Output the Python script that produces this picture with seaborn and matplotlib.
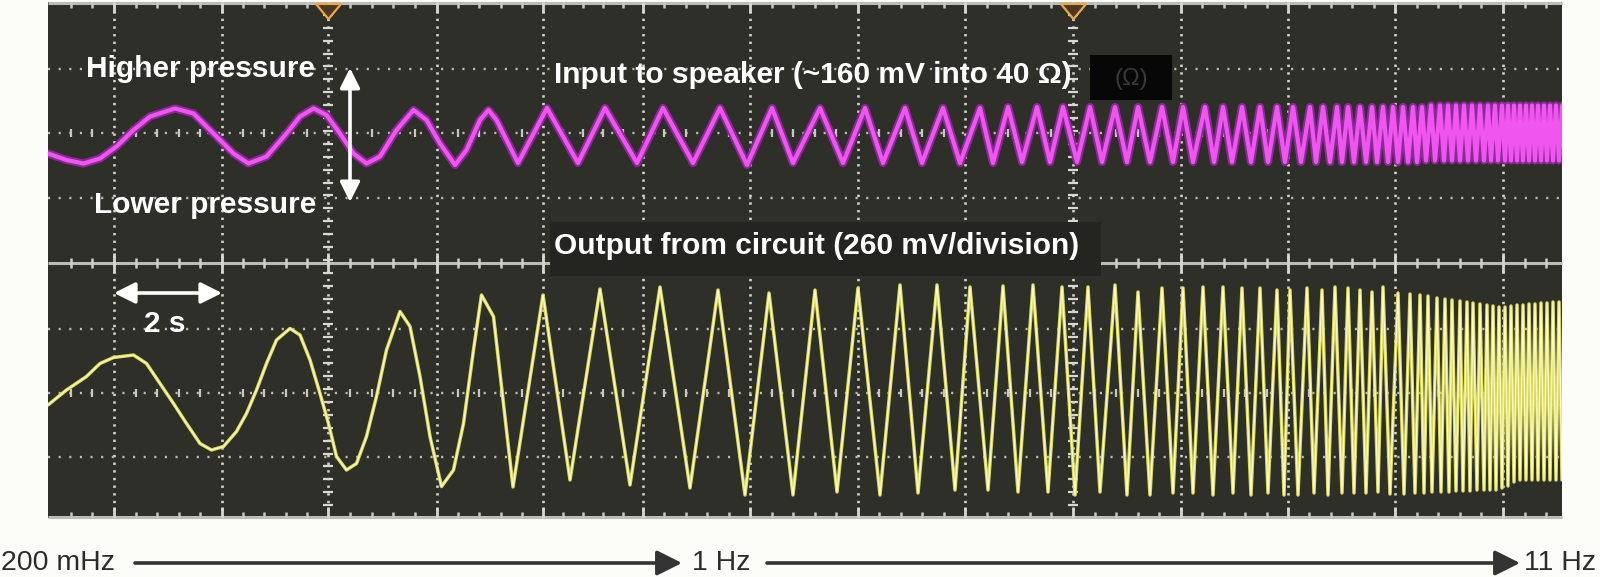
import numpy as np
import matplotlib
matplotlib.use("Agg")
import matplotlib.pyplot as plt
import seaborn as sns
from matplotlib.patches import Rectangle, FancyArrowPatch

# ---------------- data ----------------
# time axis in seconds (screen scale), level in screen units
# Input to speaker (magenta): detailed start, then alternating trough/peak extrema
input_time = [0.00, 0.37, 0.71, 1.04, 1.37, 1.71, 2.04, 2.54, 2.91, 3.31,
              3.71, 4.01, 4.37, 4.77, 5.04, 5.31, 5.57, 5.84, 6.11, 6.37,
              6.64, 6.97, 7.31, 7.57, 7.84, 8.14, 8.37, 8.64, 8.81, 8.97,
              9.40, 9.98, 10.60, 11.14, 11.78, 12.30, 12.90, 13.44, 13.98, 14.48,
              14.90, 15.44, 15.90, 16.34, 16.70, 17.14, 17.48, 17.90, 18.24, 18.64,
              18.90, 19.20, 19.48, 19.78, 20.04, 20.30, 20.58, 20.84, 21.08, 21.34,
              21.58, 21.80, 22.04, 22.28, 22.50, 22.70, 22.90, 23.14, 23.32, 23.50,
              23.68, 23.88, 24.06, 24.24, 24.40, 24.58, 24.74, 24.90, 25.06, 25.24,
              25.36, 25.50, 25.64, 25.78, 25.88, 26.00, 26.12, 26.24, 26.36, 26.48,
              26.58, 26.70, 26.80, 26.90, 27.00, 27.10, 27.20, 27.30, 27.38, 27.48,
              27.56, 27.66, 27.74, 27.84, 27.92, 28.00, 28.08, 28.16, 28.24, 28.32,
              28.40, 28.48, 28.56, 28.64, 28.72, 28.80, 28.86, 28.94, 29.00, 29.08,
              29.14, 29.20, 29.26, 29.32, 29.38, 29.44, 29.50, 29.56, 29.62, 29.68,
              29.74, 29.80, 29.86, 29.92, 29.98, 30.04, 30.10, 30.16, 30.22, 30.28]
input_level = [7.29, 7.16, 7.09, 7.19, 7.43, 7.76, 8.03, 8.19, 8.09, 7.69,
               7.29, 7.09, 7.23, 7.69, 8.03, 8.19, 8.06, 7.69, 7.29, 7.09,
               7.23, 7.76, 8.16, 7.96, 7.49, 7.06, 7.36, 7.96, 8.16, 7.96,
               7.10, 8.20, 7.10, 8.20, 7.10, 8.20, 7.10, 8.20, 7.06, 8.20,
               7.10, 8.20, 7.10, 8.20, 7.10, 8.20, 7.10, 8.20, 7.10, 8.20,
               7.10, 8.22, 7.12, 8.22, 7.12, 8.22, 7.12, 8.22, 7.12, 8.22,
               7.12, 8.22, 7.12, 8.22, 7.12, 8.22, 7.12, 8.22, 7.12, 8.22,
               7.12, 8.22, 7.12, 8.22, 7.12, 8.22, 7.12, 8.22, 7.12, 8.22,
               7.12, 8.22, 7.12, 8.22, 7.12, 8.22, 7.12, 8.22, 7.12, 8.22,
               7.12, 8.22, 7.12, 8.22, 7.12, 8.22, 7.12, 8.22, 7.12, 8.22,
               7.15, 8.25, 7.15, 8.25, 7.15, 8.25, 7.15, 8.25, 7.15, 8.25,
               7.15, 8.25, 7.15, 8.25, 7.15, 8.25, 7.15, 8.25, 7.15, 8.25,
               7.15, 8.25, 7.15, 8.25, 7.15, 8.25, 7.15, 8.25, 7.15, 8.25,
               7.15, 8.25, 7.15, 8.25, 7.15, 8.25, 7.15, 8.25, 7.15, 8.25]

# Output from circuit (yellow)
output_time = [0.00, 0.37, 0.77, 1.04, 1.31, 1.71, 1.97, 2.24, 2.51, 2.77,
               3.04, 3.27, 3.51, 3.77, 3.97, 4.17, 4.37, 4.57, 4.84, 5.04,
               5.24, 5.44, 5.61, 5.77, 5.97, 6.17, 6.37, 6.57, 6.77, 7.04,
               7.24, 7.44, 7.64, 7.87, 8.11, 8.31, 8.51, 8.67, 8.91,
               9.30, 9.90, 10.44, 11.04, 11.64, 12.24, 12.84, 13.40, 13.94, 14.42,
               14.90, 15.34, 15.78, 16.20, 16.64, 17.04, 17.40, 17.78, 18.14, 18.44,
               18.80, 19.10, 19.40, 19.70, 20.00, 20.28, 20.54, 20.80, 21.04, 21.34,
               21.58, 21.80, 22.04, 22.28, 22.50, 22.70, 22.90, 23.10, 23.30, 23.50,
               23.70, 23.88, 24.06, 24.24, 24.40, 24.58, 24.72, 24.84, 25.00, 25.18,
               25.32, 25.48, 25.60, 25.74, 25.88, 26.00, 26.12, 26.24, 26.36, 26.48,
               26.60, 26.70, 26.84, 27.00, 27.12, 27.24, 27.34, 27.44, 27.52, 27.60,
               27.68, 27.78, 27.86, 27.94, 28.02, 28.08, 28.16, 28.24, 28.30, 28.38,
               28.44, 28.50, 28.58, 28.64, 28.72, 28.78, 28.84, 28.90, 28.96, 29.02,
               29.08, 29.14, 29.20, 29.26, 29.32, 29.38, 29.44, 29.50, 29.56, 29.62,
               29.68, 29.74, 29.80, 29.86, 29.92, 29.98, 30.04, 30.10, 30.16, 30.22,
               30.28]
output_level = [2.26, 2.56, 2.83, 3.09, 3.21, 3.26, 3.09, 2.69, 2.29, 1.89,
                1.49, 1.36, 1.43, 1.73, 2.09, 2.56, 3.09, 3.56, 3.79, 3.66,
                3.16, 2.49, 1.89, 1.23, 0.96, 1.09, 1.63, 2.43, 3.36, 4.13,
                3.83, 2.83, 1.63, 0.63, 0.96, 1.89, 3.36, 4.46, 4.03,
                0.62, 4.46, 0.76, 4.58, 0.66, 4.62, 0.60, 4.56, 0.46, 4.50,
                0.46, 4.56, 0.52, 4.60, 0.46, 4.66, 0.50, 4.66, 0.56, 4.62,
                0.56, 4.64, 0.52, 4.66, 0.52, 4.62, 0.46, 4.62, 0.52, 4.66,
                0.46, 4.52, 0.46, 4.60, 0.50, 4.60, 0.50, 4.62, 0.46, 4.62,
                0.50, 4.60, 0.46, 4.60, 0.50, 4.56, 0.46, 4.56, 0.46, 4.60,
                0.50, 4.56, 0.46, 4.62, 0.50, 4.60, 0.50, 4.56, 0.50, 4.52,
                0.52, 4.62, 0.48, 4.50, 0.48, 4.48, 0.50, 4.46, 0.50, 4.44,
                0.52, 4.40, 0.52, 4.38, 0.52, 4.36, 0.54, 4.34, 0.54, 4.32,
                0.54, 4.30, 0.56, 4.28, 0.56, 4.26, 0.56, 4.24, 0.56, 4.22,
                0.60, 4.22, 0.64, 4.24, 0.72, 4.26, 0.76, 4.26, 0.76, 4.28,
                0.76, 4.28, 0.76, 4.30, 0.76, 4.30, 0.76, 4.32, 0.76, 4.32,
                0.76]

assert len(input_time) == len(input_level)
assert len(output_time) == len(output_level)

# graticule (screen) positions
graticule_x = [1.32, 3.48, 5.60, 7.78, 9.90, 11.90, 14.04, 16.20, 18.34,
               20.50, 22.66, 24.80, 26.94, 29.10]
graticule_y = [1.22, 2.50, 3.78, 6.40, 7.70, 8.98]
separator_y = 5.10
center_y = [2.50, 7.70]
trigger_t = [5.60, 20.50]

labels_in = ["Higher pressure", "Lower pressure",
             "Input to speaker (~160 mV into 40 \u03a9)",
             "Output from circuit (260 mV/division)", "2 s"]
sweep_labels = ["200 mHz", "1 Hz", "11 Hz"]

X_MAX, Y_MAX = 30.28, 10.32

# ---------------- figure ----------------
sns.set_theme(style="dark")
plt.rcParams['font.family'] = ['Liberation Sans', 'DejaVu Sans']

fig = plt.figure(figsize=(16, 5.77), dpi=100)
fig.patch.set_facecolor('#fcfcf8')
ax = fig.add_axes([0.03, 0.10225, 0.94625, 0.8943])
ax.set_facecolor('#2f2f29')
ax.set_xlim(0, X_MAX)
ax.set_ylim(0, Y_MAX)
ax.set_xticks([])
ax.set_yticks([])
ax.grid(False)
for s in ax.spines.values():
    s.set_visible(False)

# graticule
gx = np.array(graticule_x)
minor_x = []
for a, b in zip(gx[:-1], gx[1:]):
    minor_x += list(np.linspace(a, b, 6)[1:-1])
st0 = (gx[1] - gx[0]) / 5
minor_x += [gx[0] - k * st0 for k in range(1, 5) if gx[0] - k * st0 > 0.05]
stn = (gx[-1] - gx[-2]) / 5
minor_x += [gx[-1] + k * stn for k in range(1, 5) if gx[-1] + k * stn < X_MAX - 0.05]
minor_x = np.array(sorted(minor_x))

ax.vlines(graticule_x, 0, Y_MAX, colors='#d4d4cc', lw=1.9,
          linestyles=[(0, (0.9, 2.0))], zorder=1)
ax.hlines(graticule_y, 0, X_MAX, colors='#bdbdb5', lw=1.7,
          linestyles=[(0, (0.9, 3.6))], zorder=1)
div_h = 1.29
yy = np.arange(0.0, Y_MAX, div_h / 5)
for t in trigger_t:
    ax.plot([t] * len(yy), yy, ls='none', marker='_', ms=7, mew=1.6,
            color='#d8d8d0', zorder=1.2)
for yc in center_y:
    ax.plot(minor_x, [yc] * len(minor_x), ls='none', marker='|', ms=6, mew=1.6,
            color='#c8c8c0', zorder=1.2)

# borders and tick marks
ax.hlines([0.03, separator_y, Y_MAX - 0.03], 0, X_MAX, colors='#bcbcb6', lw=2.2,
          zorder=1.5, clip_on=False)
ax.vlines(minor_x, Y_MAX - 0.12, Y_MAX, colors='#c8c8c2', lw=1.8, zorder=1.5)
ax.vlines(graticule_x, Y_MAX - 0.22, Y_MAX, colors='#d8d8d2', lw=2.0, zorder=1.5)
ax.vlines(minor_x, 0, 0.12, colors='#c8c8c2', lw=1.8, zorder=1.5)
ax.vlines(graticule_x, 0, 0.22, colors='#d8d8d2', lw=2.0, zorder=1.5)
ax.vlines(minor_x, separator_y - 0.1, separator_y + 0.1, colors='#d0d0ca', lw=1.8,
          zorder=1.5)
ax.vlines(graticule_x, separator_y - 0.2, separator_y + 0.2, colors='#d8d8d2',
          lw=2.0, zorder=1.5)

# traces
sns.lineplot(x=input_time, y=input_level, sort=False, estimator=None,
             color='#8a2a98', lw=5.8, ax=ax, zorder=3)
sns.lineplot(x=input_time, y=input_level, sort=False, estimator=None,
             color='#f055f0', lw=3.0, ax=ax, zorder=3.1)
sns.lineplot(x=output_time, y=output_level, sort=False, estimator=None,
             color='#d6d650', lw=2.5, ax=ax, zorder=3.2)
sns.lineplot(x=output_time, y=output_level, sort=False, estimator=None,
             color='#fafac8', lw=1.0, ax=ax, zorder=3.3)

# label boxes
ax.add_patch(Rectangle((10.04, 4.84), 11.02, 1.08, facecolor='#242421',
                       edgecolor='none', zorder=5))
ax.add_patch(Rectangle((20.84, 8.36), 1.64, 0.90, facecolor='#070707',
                       edgecolor='none', zorder=5))
ax.text(21.66, 8.78, "(\u03a9)", color='#3a3a38', fontsize=17, ha='center',
        va='center', zorder=5.5)

tk = dict(color='white', fontsize=21.5, fontweight='bold', zorder=6)
ax.text(3.06, 8.82, labels_in[0], ha='center', va='baseline', **tk)
ax.text(3.14, 6.10, labels_in[1], ha='center', va='baseline', **tk)
ax.text(15.30, 8.70, labels_in[2], ha='center', va='baseline', **tk)
ax.text(15.38, 5.28, labels_in[3], ha='center', va='baseline', **tk)
ax.text(2.34, 3.72, labels_in[4], ha='center', va='baseline', **tk)

ax.annotate('', xy=(6.04, 9.00), xytext=(6.04, 6.32),
            arrowprops=dict(arrowstyle='<|-|>', color='white', lw=2.6,
                            mutation_scale=30, shrinkA=0, shrinkB=0), zorder=6)
ax.annotate('', xy=(1.32, 4.50), xytext=(3.48, 4.50),
            arrowprops=dict(arrowstyle='<|-|>', color='white', lw=2.6,
                            mutation_scale=32, shrinkA=0, shrinkB=0), zorder=6)

# trigger markers
tri = [(-1.0, 0.6), (1.0, 0.6), (0.0, -0.6), (-1.0, 0.6)]
ax.scatter(trigger_t, [10.14] * len(trigger_t), marker=tri, s=330,
           facecolor='#4a3a22', edgecolor='#eda64c', linewidths=1.6,
           clip_on=False, zorder=8)

# sweep annotation under the scope
yb = (577 - 563) / 577
for x0, x1 in [(135, 682), (767, 1520)]:
    fig.add_artist(FancyArrowPatch((x0 / 1600, yb), (x1 / 1600, yb),
                                   transform=fig.transFigure, arrowstyle='-|>',
                                   mutation_scale=38, lw=2.6, color='#343434',
                                   shrinkA=0, shrinkB=0))
bk = dict(color='#2c2c2c', fontsize=20.5, va='bottom', ha='left')
by = 1 / 577
fig.text(1 / 1600, by, sweep_labels[0], **bk)
fig.text(692 / 1600, by, sweep_labels[1], **bk)
fig.text(1524 / 1600, by, sweep_labels[2], **bk)

fig.savefig('out.png', dpi=100, facecolor=fig.get_facecolor())
